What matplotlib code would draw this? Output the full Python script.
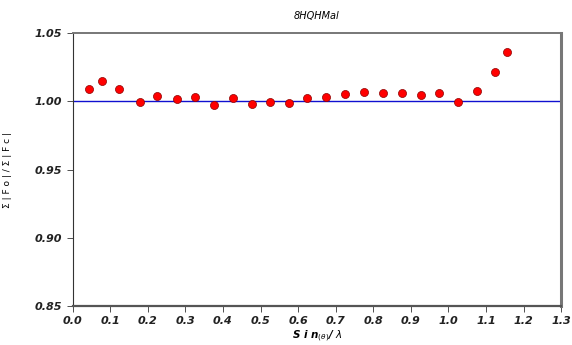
import matplotlib
matplotlib.use('Agg')
import matplotlib.pyplot as plt

# Data
sin_theta_lambda = [0.044, 0.077, 0.123, 0.179, 0.225, 0.277, 0.326, 0.377,
                    0.426, 0.476, 0.526, 0.576, 0.625, 0.675, 0.725, 0.775,
                    0.825, 0.876, 0.926, 0.975, 1.025, 1.076, 1.125, 1.156]
fo_fc_ratio = [1.0088, 1.0149, 1.0088, 0.9997, 1.0037, 1.0017, 1.0029, 0.9973,
               1.0022, 0.9980, 0.9997, 0.9985, 1.0027, 1.0035, 1.0053, 1.0065,
               1.0060, 1.0060, 1.0044, 1.0059, 0.9993, 1.0076, 1.0216, 1.0358]
x_ticks = [0.0, 0.1, 0.2, 0.3, 0.4, 0.5, 0.6, 0.7, 0.8, 0.9, 1.0, 1.1, 1.2, 1.3]
y_ticks = [0.85, 0.90, 0.95, 1.00, 1.05]

fig = plt.figure(figsize=(5.72, 3.45), dpi=100)
ax = fig.add_axes([0.127, 0.113, 0.854, 0.791])

ax.axhline(1.0, color='#1010d0', lw=1.0, zorder=1)
ax.plot(sin_theta_lambda, fo_fc_ratio, 'o', color='#ff0000',
        markeredgecolor='#8b0000', markeredgewidth=0.5, markersize=5.8, zorder=3)

ax.set_xlim(0, 1.3)
ax.set_ylim(0.85, 1.05)
ax.set_xticks(x_ticks)
ax.set_xticklabels([f"{t:.1f}" for t in x_ticks])
ax.set_yticks(y_ticks)
ax.set_yticklabels([f"{t:.2f}" for t in y_ticks])
ax.tick_params(axis='both', labelsize=8, length=4, width=0.6, color='#333333')
for lab in ax.get_xticklabels() + ax.get_yticklabels():
    lab.set_fontstyle('italic')
    lab.set_fontweight('bold')
    lab.set_color('#222222')

# frame with a grey shadow on top/right like the original
ax.spines['left'].set_color('#333333')
ax.spines['left'].set_linewidth(0.8)
ax.spines['bottom'].set_color('#555555')
ax.spines['bottom'].set_linewidth(1.6)
ax.spines['top'].set_color('#777777')
ax.spines['top'].set_linewidth(1.4)
ax.spines['right'].set_color('#777777')
ax.spines['right'].set_linewidth(2.2)

ax.set_title('8HQHMal', fontsize=7, fontstyle='italic', pad=10)
ax.set_xlabel(r'S i n$_{(\theta)}$/ $\lambda$', fontsize=7.5, fontstyle='italic',
              fontweight='bold')
ax.xaxis.set_label_coords(0.5, -0.082)
ax.set_ylabel('Σ | F o | / Σ | F c |', fontsize=6.5)
ax.yaxis.set_label_coords(-0.125, 0.5)

fig.savefig('out.png', dpi=100)
